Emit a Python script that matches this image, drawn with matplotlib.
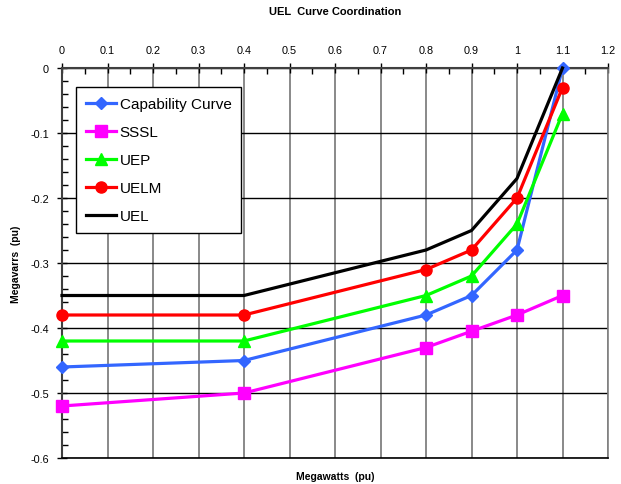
import matplotlib
matplotlib.use("Agg")
import matplotlib.pyplot as plt
from matplotlib.ticker import MultipleLocator

plt.rcParams['font.family'] = ['Liberation Sans', 'DejaVu Sans']

x = [0, 0.4, 0.8, 0.9, 1.0, 1.1]
capability = [-0.46, -0.45, -0.38, -0.35, -0.28, 0.0]
sssl = [-0.52, -0.50, -0.43, -0.405, -0.38, -0.35]
uep = [-0.42, -0.42, -0.35, -0.32, -0.24, -0.07]
uelm = [-0.38, -0.38, -0.31, -0.28, -0.20, -0.03]
uel = [-0.35, -0.35, -0.28, -0.25, -0.17, 0.0]

fig = plt.figure(figsize=(6.21, 4.85), dpi=100)
ax = fig.add_axes([62/621, 1 - 459/485, (608-62)/621, (459-69)/485])

lw = 2.3
ax.plot(x, capability, color='#3366FF', lw=lw, marker='D', ms=6.5, label='Capability Curve', zorder=5, clip_on=False)
ax.plot(x, sssl, color='#FF00FF', lw=lw, marker='s', ms=8, label='SSSL', zorder=5, clip_on=False)
ax.plot(x, uep, color='#00FF00', lw=lw, marker='^', ms=8, label='UEP', zorder=5, clip_on=False)
ax.plot(x, uelm, color='#FF0000', lw=lw, marker='o', ms=8, label='UELM', zorder=5, clip_on=False)
ax.plot(x, uel, color='#000000', lw=lw, label='UEL', zorder=5, clip_on=False)

ax.set_xlim(0, 1.2)
ax.set_ylim(-0.6, 0)
ax.xaxis.set_major_locator(MultipleLocator(0.1))
ax.xaxis.set_minor_locator(MultipleLocator(0.05))
ax.yaxis.set_major_locator(MultipleLocator(0.1))
ax.yaxis.set_minor_locator(MultipleLocator(0.02))
ax.xaxis.tick_top()
ax.set_xticks([i/10 for i in range(13)])
ax.set_xticklabels(['0', '0.1', '0.2', '0.3', '0.4', '0.5', '0.6', '0.7', '0.8', '0.9', '1', '1.1', '1.2'])
ax.set_yticks([-i/10 for i in range(7)])
ax.set_yticklabels(['0', '-0.1', '-0.2', '-0.3', '-0.4', '-0.5', '-0.6'])
ax.tick_params(which='major', direction='inout', length=7, width=1, labelsize=7.8, pad=6)
ax.tick_params(which='minor', direction='in', length=4, width=1)
ax.grid(axis='x', which='major', color='#808080', lw=1.3)
ax.grid(axis='y', which='major', color='#000000', lw=1.0)
for s in ['left', 'top']:
    ax.spines[s].set_linewidth(1.5)
    ax.spines[s].set_color('#404040')
for s in ['right', 'bottom']:
    ax.spines[s].set_linewidth(1.2)
    ax.spines[s].set_color('#808080')
ax.spines['bottom'].set_color('#000000')

fig.text((62+608)/2/621, 1 - 12/485, 'UEL  Curve Coordination', ha='center', va='center',
         fontsize=8, fontweight='bold')
fig.text((62+608)/2/621, 1 - 477/485, 'Megawatts  (pu)', ha='center', va='center',
         fontsize=7.5, fontweight='bold')
fig.text(16/621, 1 - 264/485, 'Megavarrs  (pu)', ha='center', va='center', rotation=90,
         fontsize=7.5, fontweight='bold')

leg = ax.legend(loc='upper left', bbox_to_anchor=((76-62)/546, 1 - (88-69)/390),
                fontsize=11, frameon=True, fancybox=False, framealpha=1,
                edgecolor='#000000', handlelength=2.0, handletextpad=0.2,
                labelspacing=0.92, borderpad=0.65, borderaxespad=0)
leg.get_frame().set_linewidth(1.0)
leg.set_zorder(10)

fig.savefig('out.png', dpi=100)
